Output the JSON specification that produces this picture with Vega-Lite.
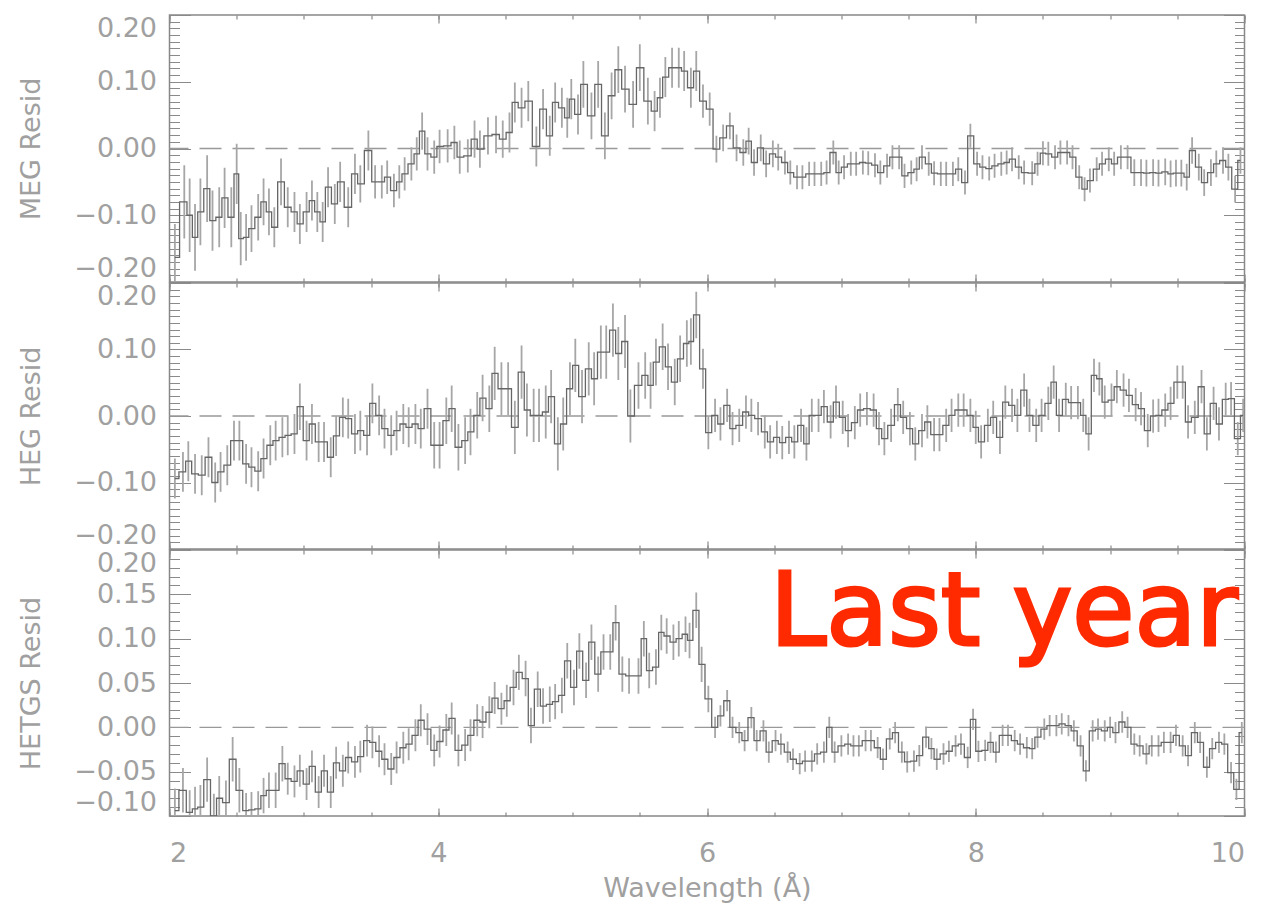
{
"$schema":"https://vega.github.io/schema/vega-lite/v6.json",
"padding":{"left":16.5,"top":13,"right":10,"bottom":5},
"spacing":-3,
"config":{
"view":{"stroke":"#888","strokeWidth":1.5},
"font":"DejaVu Sans",
"axis":{"labelFont":"DejaVu Sans","titleFont":"DejaVu Sans","labelColor":"#a0a0a0","titleColor":"#a0a0a0","labelFontSize":27,"titleFontSize":27,"titleFontWeight":"normal","domain":false,"ticks":false,"gridColor":"#8a8a8a","gridOpacity":1,"gridWidth":1.2}
},
"datasets":{
"meg":[
{"w":2.04,"r":-0.163,"e":0.05},{"w":2.11,"r":-0.08,"e":0.055},{"w":2.15,"r":-0.10,"e":0.055},{"w":2.19,"r":-0.133,"e":0.05},{"w":2.23,"r":-0.095,"e":0.05},{"w":2.28,"r":-0.06,"e":0.05},{"w":2.32,"r":-0.108,"e":0.045},{"w":2.37,"r":-0.103,"e":0.045},{"w":2.41,"r":-0.074,"e":0.045},{"w":2.46,"r":-0.103,"e":0.045},{"w":2.50,"r":-0.038,"e":0.045},{"w":2.53,"r":-0.135,"e":0.04},{"w":2.57,"r":-0.133,"e":0.035},{"w":2.61,"r":-0.12,"e":0.035},{"w":2.66,"r":-0.103,"e":0.035},{"w":2.70,"r":-0.08,"e":0.035},{"w":2.74,"r":-0.095,"e":0.035},{"w":2.78,"r":-0.118,"e":0.03},{"w":2.83,"r":-0.05,"e":0.035},{"w":2.88,"r":-0.088,"e":0.03},{"w":2.93,"r":-0.095,"e":0.03},{"w":2.97,"r":-0.113,"e":0.03},{"w":3.02,"r":-0.095,"e":0.03},{"w":3.06,"r":-0.078,"e":0.03},{"w":3.10,"r":-0.095,"e":0.03},{"w":3.14,"r":-0.11,"e":0.03},{"w":3.18,"r":-0.058,"e":0.03},{"w":3.23,"r":-0.083,"e":0.03},{"w":3.27,"r":-0.05,"e":0.03},{"w":3.33,"r":-0.088,"e":0.03},{"w":3.38,"r":-0.038,"e":0.03},{"w":3.42,"r":-0.053,"e":0.028},{"w":3.48,"r":-0.003,"e":0.03},{"w":3.53,"r":-0.05,"e":0.025},{"w":3.58,"r":-0.05,"e":0.025},{"w":3.62,"r":-0.043,"e":0.025},{"w":3.67,"r":-0.063,"e":0.025},{"w":3.71,"r":-0.05,"e":0.025},{"w":3.75,"r":-0.038,"e":0.025},{"w":3.80,"r":-0.023,"e":0.025},{"w":3.84,"r":-0.008,"e":0.025},{"w":3.88,"r":0.026,"e":0.028},{"w":3.92,"r":-0.008,"e":0.025},{"w":3.97,"r":-0.013,"e":0.025},{"w":4.01,"r":0.003,"e":0.025},{"w":4.07,"r":0.004,"e":0.025},{"w":4.12,"r":0.009,"e":0.025},{"w":4.16,"r":-0.013,"e":0.025},{"w":4.22,"r":-0.011,"e":0.025},{"w":4.27,"r":0.014,"e":0.028},{"w":4.31,"r":-0.001,"e":0.028},{"w":4.37,"r":0.019,"e":0.028},{"w":4.43,"r":0.021,"e":0.028},{"w":4.48,"r":0.014,"e":0.028},{"w":4.53,"r":0.024,"e":0.03},{"w":4.57,"r":0.069,"e":0.03},{"w":4.62,"r":0.061,"e":0.03},{"w":4.67,"r":0.071,"e":0.03},{"w":4.73,"r":0.003,"e":0.03},{"w":4.78,"r":0.059,"e":0.03},{"w":4.83,"r":0.019,"e":0.03},{"w":4.87,"r":0.069,"e":0.03},{"w":4.92,"r":0.061,"e":0.03},{"w":4.96,"r":0.046,"e":0.03},{"w":4.99,"r":0.074,"e":0.03},{"w":5.04,"r":0.051,"e":0.03},{"w":5.08,"r":0.096,"e":0.035},{"w":5.14,"r":0.049,"e":0.035},{"w":5.19,"r":0.096,"e":0.035},{"w":5.24,"r":0.019,"e":0.035},{"w":5.29,"r":0.079,"e":0.035},{"w":5.34,"r":0.118,"e":0.035},{"w":5.39,"r":0.089,"e":0.035},{"w":5.45,"r":0.066,"e":0.035},{"w":5.50,"r":0.121,"e":0.035},{"w":5.56,"r":0.071,"e":0.035},{"w":5.61,"r":0.056,"e":0.03},{"w":5.65,"r":0.076,"e":0.03},{"w":5.69,"r":0.107,"e":0.03},{"w":5.74,"r":0.121,"e":0.03},{"w":5.79,"r":0.121,"e":0.03},{"w":5.83,"r":0.116,"e":0.03},{"w":5.88,"r":0.091,"e":0.03},{"w":5.92,"r":0.116,"e":0.03},{"w":5.97,"r":0.071,"e":0.025},{"w":6.02,"r":0.059,"e":0.025},{"w":6.07,"r":-0.001,"e":0.02},{"w":6.12,"r":0.016,"e":0.02},{"w":6.17,"r":0.034,"e":0.02},{"w":6.22,"r":0.001,"e":0.02},{"w":6.27,"r":-0.006,"e":0.02},{"w":6.31,"r":0.011,"e":0.02},{"w":6.35,"r":-0.021,"e":0.02},{"w":6.40,"r":0.001,"e":0.02},{"w":6.44,"r":-0.023,"e":0.02},{"w":6.49,"r":-0.008,"e":0.02},{"w":6.53,"r":-0.013,"e":0.02},{"w":6.58,"r":-0.021,"e":0.018},{"w":6.62,"r":-0.036,"e":0.018},{"w":6.67,"r":-0.043,"e":0.018},{"w":6.71,"r":-0.043,"e":0.018},{"w":6.76,"r":-0.038,"e":0.018},{"w":6.80,"r":-0.038,"e":0.018},{"w":6.85,"r":-0.038,"e":0.018},{"w":6.89,"r":-0.036,"e":0.018},{"w":6.94,"r":-0.006,"e":0.018},{"w":6.98,"r":-0.036,"e":0.018},{"w":7.02,"r":-0.028,"e":0.018},{"w":7.07,"r":-0.023,"e":0.018},{"w":7.11,"r":-0.023,"e":0.018},{"w":7.16,"r":-0.021,"e":0.018},{"w":7.20,"r":-0.022,"e":0.018},{"w":7.25,"r":-0.025,"e":0.018},{"w":7.29,"r":-0.036,"e":0.018},{"w":7.34,"r":-0.026,"e":0.018},{"w":7.38,"r":-0.013,"e":0.018},{"w":7.43,"r":-0.013,"e":0.018},{"w":7.47,"r":-0.041,"e":0.018},{"w":7.52,"r":-0.036,"e":0.018},{"w":7.56,"r":-0.031,"e":0.018},{"w":7.60,"r":-0.013,"e":0.018},{"w":7.65,"r":-0.023,"e":0.018},{"w":7.69,"r":-0.037,"e":0.018},{"w":7.74,"r":-0.038,"e":0.018},{"w":7.78,"r":-0.038,"e":0.018},{"w":7.83,"r":-0.038,"e":0.018},{"w":7.87,"r":-0.031,"e":0.018},{"w":7.92,"r":-0.051,"e":0.018},{"w":7.96,"r":0.019,"e":0.018},{"w":8.01,"r":-0.023,"e":0.018},{"w":8.05,"r":-0.028,"e":0.018},{"w":8.10,"r":-0.03,"e":0.018},{"w":8.14,"r":-0.026,"e":0.018},{"w":8.19,"r":-0.023,"e":0.018},{"w":8.23,"r":-0.021,"e":0.018},{"w":8.27,"r":-0.016,"e":0.018},{"w":8.32,"r":-0.028,"e":0.018},{"w":8.36,"r":-0.036,"e":0.018},{"w":8.42,"r":-0.037,"e":0.018},{"w":8.46,"r":-0.023,"e":0.018},{"w":8.50,"r":-0.007,"e":0.018},{"w":8.54,"r":-0.008,"e":0.018},{"w":8.59,"r":-0.013,"e":0.018},{"w":8.63,"r":-0.006,"e":0.018},{"w":8.68,"r":-0.006,"e":0.018},{"w":8.72,"r":-0.013,"e":0.018},{"w":8.77,"r":-0.043,"e":0.018},{"w":8.81,"r":-0.061,"e":0.018},{"w":8.85,"r":-0.048,"e":0.018},{"w":8.90,"r":-0.031,"e":0.018},{"w":8.94,"r":-0.023,"e":0.018},{"w":8.99,"r":-0.016,"e":0.018},{"w":9.03,"r":-0.023,"e":0.018},{"w":9.08,"r":-0.013,"e":0.018},{"w":9.13,"r":-0.013,"e":0.018},{"w":9.18,"r":-0.036,"e":0.02},{"w":9.23,"r":-0.036,"e":0.02},{"w":9.27,"r":-0.037,"e":0.02},{"w":9.32,"r":-0.036,"e":0.02},{"w":9.36,"r":-0.037,"e":0.02},{"w":9.41,"r":-0.035,"e":0.02},{"w":9.45,"r":-0.038,"e":0.02},{"w":9.49,"r":-0.037,"e":0.02},{"w":9.53,"r":-0.037,"e":0.02},{"w":9.57,"r":-0.043,"e":0.02},{"w":9.61,"r":-0.003,"e":0.02},{"w":9.66,"r":-0.028,"e":0.02},{"w":9.70,"r":-0.051,"e":0.02},{"w":9.75,"r":-0.036,"e":0.02},{"w":9.79,"r":-0.023,"e":0.02},{"w":9.84,"r":-0.018,"e":0.02},{"w":9.88,"r":-0.028,"e":0.02},{"w":9.93,"r":-0.061,"e":0.02},{"w":9.97,"r":-0.018,"e":0.02}
],
"heg":[
{"w":2.04,"r":-0.094,"e":0.03},{"w":2.10,"r":-0.084,"e":0.03},{"w":2.14,"r":-0.068,"e":0.03},{"w":2.19,"r":-0.087,"e":0.03},{"w":2.24,"r":-0.089,"e":0.03},{"w":2.29,"r":-0.062,"e":0.03},{"w":2.34,"r":-0.10,"e":0.03},{"w":2.38,"r":-0.084,"e":0.03},{"w":2.43,"r":-0.074,"e":0.03},{"w":2.48,"r":-0.037,"e":0.03},{"w":2.52,"r":-0.037,"e":0.03},{"w":2.57,"r":-0.072,"e":0.03},{"w":2.61,"r":-0.077,"e":0.03},{"w":2.66,"r":-0.083,"e":0.03},{"w":2.70,"r":-0.064,"e":0.03},{"w":2.75,"r":-0.044,"e":0.03},{"w":2.79,"r":-0.037,"e":0.03},{"w":2.84,"r":-0.032,"e":0.03},{"w":2.88,"r":-0.029,"e":0.03},{"w":2.93,"r":-0.027,"e":0.03},{"w":2.97,"r":0.014,"e":0.035},{"w":3.02,"r":-0.037,"e":0.03},{"w":3.06,"r":-0.012,"e":0.03},{"w":3.11,"r":-0.039,"e":0.03},{"w":3.15,"r":-0.039,"e":0.03},{"w":3.20,"r":-0.062,"e":0.03},{"w":3.24,"r":-0.03,"e":0.03},{"w":3.29,"r":-0.002,"e":0.03},{"w":3.33,"r":-0.004,"e":0.03},{"w":3.38,"r":-0.027,"e":0.03},{"w":3.42,"r":-0.022,"e":0.03},{"w":3.47,"r":-0.029,"e":0.03},{"w":3.51,"r":0.019,"e":0.03},{"w":3.56,"r":0.001,"e":0.03},{"w":3.60,"r":-0.019,"e":0.03},{"w":3.65,"r":-0.029,"e":0.03},{"w":3.69,"r":-0.022,"e":0.03},{"w":3.74,"r":-0.012,"e":0.03},{"w":3.78,"r":-0.017,"e":0.03},{"w":3.83,"r":-0.012,"e":0.03},{"w":3.87,"r":-0.019,"e":0.03},{"w":3.92,"r":0.011,"e":0.03},{"w":3.97,"r":-0.044,"e":0.035},{"w":4.01,"r":-0.044,"e":0.035},{"w":4.06,"r":-0.007,"e":0.035},{"w":4.10,"r":0.011,"e":0.035},{"w":4.15,"r":-0.047,"e":0.035},{"w":4.20,"r":-0.037,"e":0.035},{"w":4.24,"r":-0.024,"e":0.035},{"w":4.29,"r":0.001,"e":0.035},{"w":4.33,"r":0.027,"e":0.035},{"w":4.38,"r":0.011,"e":0.035},{"w":4.42,"r":0.064,"e":0.04},{"w":4.47,"r":0.041,"e":0.04},{"w":4.52,"r":0.041,"e":0.04},{"w":4.57,"r":-0.017,"e":0.04},{"w":4.62,"r":0.066,"e":0.04},{"w":4.66,"r":0.009,"e":0.04},{"w":4.71,"r":0.001,"e":0.04},{"w":4.75,"r":0.001,"e":0.04},{"w":4.80,"r":0.006,"e":0.04},{"w":4.84,"r":0.029,"e":0.04},{"w":4.89,"r":-0.042,"e":0.04},{"w":4.93,"r":-0.012,"e":0.04},{"w":4.98,"r":0.041,"e":0.04},{"w":5.02,"r":0.076,"e":0.04},{"w":5.07,"r":0.029,"e":0.04},{"w":5.12,"r":0.071,"e":0.04},{"w":5.16,"r":0.056,"e":0.04},{"w":5.21,"r":0.096,"e":0.04},{"w":5.25,"r":0.096,"e":0.04},{"w":5.30,"r":0.129,"e":0.04},{"w":5.34,"r":0.094,"e":0.04},{"w":5.39,"r":0.112,"e":0.04},{"w":5.43,"r":0.0,"e":0.04},{"w":5.49,"r":0.046,"e":0.035},{"w":5.54,"r":0.061,"e":0.035},{"w":5.58,"r":0.046,"e":0.035},{"w":5.62,"r":0.081,"e":0.035},{"w":5.67,"r":0.104,"e":0.035},{"w":5.71,"r":0.074,"e":0.035},{"w":5.76,"r":0.051,"e":0.035},{"w":5.80,"r":0.086,"e":0.035},{"w":5.85,"r":0.109,"e":0.035},{"w":5.88,"r":0.112,"e":0.035},{"w":5.92,"r":0.152,"e":0.035},{"w":5.97,"r":0.071,"e":0.03},{"w":6.01,"r":-0.025,"e":0.025},{"w":6.06,"r":0.001,"e":0.025},{"w":6.10,"r":-0.012,"e":0.025},{"w":6.15,"r":0.016,"e":0.025},{"w":6.19,"r":-0.019,"e":0.025},{"w":6.24,"r":-0.014,"e":0.025},{"w":6.29,"r":0.006,"e":0.025},{"w":6.33,"r":0.001,"e":0.025},{"w":6.38,"r":-0.004,"e":0.025},{"w":6.43,"r":-0.024,"e":0.025},{"w":6.47,"r":-0.039,"e":0.025},{"w":6.52,"r":-0.032,"e":0.025},{"w":6.56,"r":-0.04,"e":0.025},{"w":6.61,"r":-0.032,"e":0.025},{"w":6.65,"r":-0.039,"e":0.025},{"w":6.70,"r":-0.014,"e":0.025},{"w":6.74,"r":-0.042,"e":0.025},{"w":6.78,"r":0.001,"e":0.025},{"w":6.83,"r":0.001,"e":0.025},{"w":6.87,"r":0.014,"e":0.025},{"w":6.92,"r":-0.009,"e":0.025},{"w":6.96,"r":0.021,"e":0.025},{"w":7.01,"r":-0.002,"e":0.025},{"w":7.05,"r":-0.022,"e":0.025},{"w":7.10,"r":-0.01,"e":0.025},{"w":7.14,"r":0.009,"e":0.025},{"w":7.19,"r":0.011,"e":0.025},{"w":7.24,"r":0.009,"e":0.025},{"w":7.28,"r":-0.019,"e":0.025},{"w":7.32,"r":-0.034,"e":0.025},{"w":7.37,"r":-0.014,"e":0.025},{"w":7.42,"r":0.017,"e":0.025},{"w":7.46,"r":-0.002,"e":0.025},{"w":7.51,"r":-0.019,"e":0.025},{"w":7.55,"r":-0.042,"e":0.025},{"w":7.60,"r":-0.022,"e":0.025},{"w":7.64,"r":-0.009,"e":0.025},{"w":7.69,"r":-0.028,"e":0.025},{"w":7.73,"r":-0.028,"e":0.025},{"w":7.78,"r":-0.014,"e":0.025},{"w":7.82,"r":0.001,"e":0.025},{"w":7.87,"r":0.009,"e":0.025},{"w":7.91,"r":0.009,"e":0.025},{"w":7.96,"r":0.001,"e":0.025},{"w":8.00,"r":-0.017,"e":0.025},{"w":8.04,"r":-0.039,"e":0.025},{"w":8.09,"r":-0.014,"e":0.025},{"w":8.13,"r":-0.002,"e":0.025},{"w":8.18,"r":-0.032,"e":0.025},{"w":8.22,"r":0.021,"e":0.025},{"w":8.27,"r":0.016,"e":0.025},{"w":8.31,"r":0.001,"e":0.025},{"w":8.36,"r":0.039,"e":0.025},{"w":8.40,"r":0.001,"e":0.025},{"w":8.45,"r":-0.014,"e":0.025},{"w":8.49,"r":0.001,"e":0.025},{"w":8.54,"r":0.019,"e":0.025},{"w":8.58,"r":0.051,"e":0.025},{"w":8.62,"r":0.001,"e":0.025},{"w":8.67,"r":0.025,"e":0.025},{"w":8.71,"r":0.02,"e":0.025},{"w":8.76,"r":0.02,"e":0.025},{"w":8.80,"r":0.001,"e":0.025},{"w":8.84,"r":-0.027,"e":0.025},{"w":8.88,"r":0.061,"e":0.025},{"w":8.92,"r":0.056,"e":0.025},{"w":8.96,"r":0.021,"e":0.025},{"w":9.01,"r":0.024,"e":0.025},{"w":9.05,"r":0.044,"e":0.025},{"w":9.10,"r":0.039,"e":0.025},{"w":9.14,"r":0.031,"e":0.025},{"w":9.19,"r":0.017,"e":0.025},{"w":9.23,"r":0.011,"e":0.025},{"w":9.28,"r":-0.022,"e":0.025},{"w":9.32,"r":0.0,"e":0.025},{"w":9.36,"r":0.001,"e":0.025},{"w":9.41,"r":0.009,"e":0.025},{"w":9.45,"r":0.019,"e":0.025},{"w":9.50,"r":0.051,"e":0.025},{"w":9.54,"r":0.051,"e":0.025},{"w":9.58,"r":-0.009,"e":0.025},{"w":9.63,"r":-0.002,"e":0.025},{"w":9.68,"r":0.044,"e":0.025},{"w":9.72,"r":-0.027,"e":0.025},{"w":9.77,"r":0.019,"e":0.025},{"w":9.81,"r":-0.012,"e":0.025},{"w":9.86,"r":0.025,"e":0.025},{"w":9.90,"r":0.026,"e":0.025},{"w":9.95,"r":-0.034,"e":0.025},{"w":9.99,"r":0.001,"e":0.025}
],
"hetgs":[
{"w":2.04,"r":-0.094,"e":0.025},{"w":2.10,"r":-0.071,"e":0.025},{"w":2.15,"r":-0.096,"e":0.025},{"w":2.19,"r":-0.092,"e":0.025},{"w":2.23,"r":-0.09,"e":0.025},{"w":2.28,"r":-0.059,"e":0.025},{"w":2.33,"r":-0.10,"e":0.025},{"w":2.37,"r":-0.08,"e":0.025},{"w":2.42,"r":-0.085,"e":0.025},{"w":2.47,"r":-0.036,"e":0.025},{"w":2.52,"r":-0.071,"e":0.025},{"w":2.57,"r":-0.094,"e":0.02},{"w":2.61,"r":-0.093,"e":0.02},{"w":2.66,"r":-0.092,"e":0.02},{"w":2.70,"r":-0.077,"e":0.02},{"w":2.74,"r":-0.071,"e":0.02},{"w":2.79,"r":-0.071,"e":0.02},{"w":2.84,"r":-0.041,"e":0.02},{"w":2.88,"r":-0.058,"e":0.018},{"w":2.93,"r":-0.061,"e":0.018},{"w":2.97,"r":-0.049,"e":0.018},{"w":3.02,"r":-0.064,"e":0.018},{"w":3.06,"r":-0.044,"e":0.018},{"w":3.11,"r":-0.073,"e":0.018},{"w":3.15,"r":-0.049,"e":0.018},{"w":3.20,"r":-0.073,"e":0.018},{"w":3.24,"r":-0.040,"e":0.018},{"w":3.29,"r":-0.049,"e":0.018},{"w":3.33,"r":-0.034,"e":0.018},{"w":3.38,"r":-0.039,"e":0.018},{"w":3.42,"r":-0.033,"e":0.018},{"w":3.47,"r":-0.015,"e":0.018},{"w":3.51,"r":-0.017,"e":0.018},{"w":3.56,"r":-0.027,"e":0.018},{"w":3.60,"r":-0.036,"e":0.018},{"w":3.65,"r":-0.047,"e":0.018},{"w":3.69,"r":-0.034,"e":0.018},{"w":3.74,"r":-0.023,"e":0.018},{"w":3.78,"r":-0.019,"e":0.018},{"w":3.83,"r":-0.009,"e":0.018},{"w":3.87,"r":0.008,"e":0.018},{"w":3.92,"r":-0.002,"e":0.018},{"w":3.97,"r":-0.026,"e":0.018},{"w":4.01,"r":-0.016,"e":0.018},{"w":4.06,"r":-0.003,"e":0.018},{"w":4.10,"r":0.010,"e":0.018},{"w":4.15,"r":-0.026,"e":0.018},{"w":4.20,"r":-0.02,"e":0.018},{"w":4.24,"r":-0.009,"e":0.018},{"w":4.29,"r":0.008,"e":0.018},{"w":4.33,"r":0.006,"e":0.018},{"w":4.38,"r":0.017,"e":0.018},{"w":4.42,"r":0.033,"e":0.018},{"w":4.47,"r":0.021,"e":0.018},{"w":4.51,"r":0.03,"e":0.018},{"w":4.56,"r":0.045,"e":0.02},{"w":4.60,"r":0.062,"e":0.02},{"w":4.65,"r":0.055,"e":0.02},{"w":4.69,"r":0.002,"e":0.02},{"w":4.74,"r":0.043,"e":0.02},{"w":4.78,"r":0.024,"e":0.02},{"w":4.83,"r":0.026,"e":0.02},{"w":4.87,"r":0.029,"e":0.02},{"w":4.92,"r":0.036,"e":0.02},{"w":4.96,"r":0.075,"e":0.02},{"w":5.01,"r":0.045,"e":0.02},{"w":5.05,"r":0.086,"e":0.02},{"w":5.10,"r":0.053,"e":0.02},{"w":5.14,"r":0.096,"e":0.02},{"w":5.19,"r":0.06,"e":0.02},{"w":5.23,"r":0.085,"e":0.02},{"w":5.28,"r":0.085,"e":0.02},{"w":5.32,"r":0.118,"e":0.02},{"w":5.37,"r":0.06,"e":0.02},{"w":5.42,"r":0.058,"e":0.02},{"w":5.49,"r":0.058,"e":0.02},{"w":5.53,"r":0.10,"e":0.02},{"w":5.57,"r":0.064,"e":0.02},{"w":5.62,"r":0.068,"e":0.02},{"w":5.66,"r":0.107,"e":0.02},{"w":5.70,"r":0.103,"e":0.02},{"w":5.75,"r":0.096,"e":0.02},{"w":5.79,"r":0.10,"e":0.02},{"w":5.84,"r":0.105,"e":0.02},{"w":5.87,"r":0.098,"e":0.02},{"w":5.92,"r":0.132,"e":0.02},{"w":5.96,"r":0.071,"e":0.02},{"w":6.01,"r":0.032,"e":0.015},{"w":6.06,"r":0.0,"e":0.012},{"w":6.10,"r":0.013,"e":0.012},{"w":6.15,"r":0.03,"e":0.012},{"w":6.19,"r":0.0,"e":0.012},{"w":6.24,"r":-0.006,"e":0.012},{"w":6.28,"r":-0.015,"e":0.012},{"w":6.33,"r":0.011,"e":0.012},{"w":6.37,"r":-0.015,"e":0.012},{"w":6.42,"r":-0.004,"e":0.012},{"w":6.46,"r":-0.028,"e":0.012},{"w":6.51,"r":-0.015,"e":0.012},{"w":6.55,"r":-0.019,"e":0.012},{"w":6.60,"r":-0.028,"e":0.012},{"w":6.64,"r":-0.036,"e":0.012},{"w":6.69,"r":-0.041,"e":0.012},{"w":6.73,"r":-0.038,"e":0.012},{"w":6.78,"r":-0.038,"e":0.012},{"w":6.82,"r":-0.03,"e":0.012},{"w":6.87,"r":-0.028,"e":0.012},{"w":6.91,"r":0.0,"e":0.012},{"w":6.95,"r":-0.028,"e":0.012},{"w":7.00,"r":-0.021,"e":0.012},{"w":7.05,"r":-0.019,"e":0.012},{"w":7.09,"r":-0.021,"e":0.012},{"w":7.13,"r":-0.021,"e":0.012},{"w":7.18,"r":-0.015,"e":0.012},{"w":7.22,"r":-0.015,"e":0.012},{"w":7.27,"r":-0.023,"e":0.012},{"w":7.31,"r":-0.036,"e":0.012},{"w":7.36,"r":-0.013,"e":0.012},{"w":7.40,"r":-0.006,"e":0.012},{"w":7.45,"r":-0.028,"e":0.012},{"w":7.49,"r":-0.039,"e":0.012},{"w":7.54,"r":-0.038,"e":0.012},{"w":7.58,"r":-0.032,"e":0.012},{"w":7.63,"r":-0.011,"e":0.012},{"w":7.67,"r":-0.024,"e":0.012},{"w":7.71,"r":-0.036,"e":0.012},{"w":7.76,"r":-0.03,"e":0.012},{"w":7.80,"r":-0.027,"e":0.012},{"w":7.85,"r":-0.021,"e":0.012},{"w":7.89,"r":-0.019,"e":0.012},{"w":7.94,"r":-0.034,"e":0.012},{"w":7.98,"r":0.009,"e":0.012},{"w":8.02,"r":-0.027,"e":0.012},{"w":8.07,"r":-0.026,"e":0.012},{"w":8.11,"r":-0.017,"e":0.012},{"w":8.15,"r":-0.028,"e":0.012},{"w":8.20,"r":-0.009,"e":0.012},{"w":8.24,"r":-0.009,"e":0.012},{"w":8.29,"r":-0.015,"e":0.012},{"w":8.33,"r":-0.019,"e":0.012},{"w":8.38,"r":-0.023,"e":0.012},{"w":8.42,"r":-0.024,"e":0.012},{"w":8.46,"r":-0.011,"e":0.012},{"w":8.51,"r":-0.002,"e":0.012},{"w":8.55,"r":0.002,"e":0.012},{"w":8.60,"r":0.002,"e":0.012},{"w":8.64,"r":0.004,"e":0.012},{"w":8.69,"r":0.002,"e":0.012},{"w":8.73,"r":-0.004,"e":0.012},{"w":8.78,"r":-0.021,"e":0.012},{"w":8.82,"r":-0.049,"e":0.012},{"w":8.87,"r":-0.004,"e":0.012},{"w":8.91,"r":-0.002,"e":0.012},{"w":8.96,"r":-0.004,"e":0.012},{"w":9.00,"r":0.0,"e":0.012},{"w":9.04,"r":-0.006,"e":0.012},{"w":9.09,"r":0.006,"e":0.012},{"w":9.13,"r":0.0,"e":0.012},{"w":9.18,"r":-0.019,"e":0.012},{"w":9.22,"r":-0.021,"e":0.012},{"w":9.27,"r":-0.03,"e":0.012},{"w":9.31,"r":-0.021,"e":0.012},{"w":9.36,"r":-0.021,"e":0.012},{"w":9.40,"r":-0.017,"e":0.012},{"w":9.45,"r":-0.017,"e":0.012},{"w":9.49,"r":-0.009,"e":0.012},{"w":9.54,"r":-0.021,"e":0.012},{"w":9.58,"r":-0.032,"e":0.012},{"w":9.63,"r":-0.006,"e":0.012},{"w":9.67,"r":-0.017,"e":0.012},{"w":9.72,"r":-0.045,"e":0.012},{"w":9.76,"r":-0.024,"e":0.012},{"w":9.81,"r":-0.017,"e":0.012},{"w":9.85,"r":-0.019,"e":0.012},{"w":9.90,"r":-0.051,"e":0.012},{"w":9.94,"r":-0.07,"e":0.012},{"w":9.98,"r":-0.006,"e":0.012}
]
},
"vconcat":[
{
"width":1075,"height":267,
"data":{"name":"meg"},
"layer":[
{"data":{"values":[{"z":0}]},"mark":{"type":"rule","strokeDash":[22,11],"color":"#999","strokeWidth":1.3},"encoding":{"y":{"field":"z","type":"quantitative","axis":null}}},
{"mark":{"type":"errorbar","color":"#a6a6a6","thickness":1.8,"clip":true},"encoding":{
"x":{"field":"w","type":"quantitative","scale":{"domain":[2,10],"nice":false,"zero":false},"axis":{"orient":"bottom","values":[2,2.5,3,3.5,4,4.5,5,5.5,6,6.5,7,7.5,8,8.5,9,9.5,10],"labels":false,"title":null,"grid":true,"gridDash":[4,259,4,0]}},
"y":{"field":"r","type":"quantitative","scale":{"domain":[-0.2,0.2],"nice":false,"zero":false},"axis":{"orient":"left","values":[-0.2,-0.19,-0.18,-0.17,-0.16,-0.15,-0.14,-0.13,-0.12,-0.11,-0.1,-0.09,-0.08,-0.07,-0.06,-0.05,-0.04,-0.03,-0.02,-0.01,0,0.01,0.02,0.03,0.04,0.05,0.06,0.07,0.08,0.09,0.1,0.11,0.12,0.13,0.14,0.15,0.16,0.17,0.18,0.19,0.2],"labels":false,"title":null,"grid":true,"gridDash":[10,1055,10,0]}},
"yError":{"field":"e"}}},
{"mark":{"type":"line","interpolate":"step","color":"#666","strokeWidth":1.3,"clip":true},"encoding":{
"x":{"field":"w","type":"quantitative","axis":{"orient":"bottom","values":[2,4,6,8,10],"labels":false,"title":null,"grid":true,"gridDash":[8,251,8,0]}},
"y":{"field":"r","type":"quantitative","axis":{"orient":"left","values":[-0.2,-0.1,0,0.1,0.2],"format":".2f","labelFlush":true,"labelPadding":13,"title":"MEG Resid","titlePadding":28,"grid":true,"gridDash":[21,1033,21,0]}}}}
],
"resolve":{"axis":{"x":"independent","y":"independent"}}
},
{
"width":1075,"height":266,
"data":{"name":"heg"},
"layer":[
{"data":{"values":[{"z":0}]},"mark":{"type":"rule","strokeDash":[22,11],"color":"#999","strokeWidth":1.3},"encoding":{"y":{"field":"z","type":"quantitative","axis":null}}},
{"mark":{"type":"errorbar","color":"#a6a6a6","thickness":1.8,"clip":true},"encoding":{
"x":{"field":"w","type":"quantitative","scale":{"domain":[2,10],"nice":false,"zero":false},"axis":{"orient":"bottom","values":[2,2.5,3,3.5,4,4.5,5,5.5,6,6.5,7,7.5,8,8.5,9,9.5,10],"labels":false,"title":null,"grid":true,"gridDash":[4,258,4,0]}},
"y":{"field":"r","type":"quantitative","scale":{"domain":[-0.2,0.2],"nice":false,"zero":false},"axis":{"orient":"left","values":[-0.2,-0.19,-0.18,-0.17,-0.16,-0.15,-0.14,-0.13,-0.12,-0.11,-0.1,-0.09,-0.08,-0.07,-0.06,-0.05,-0.04,-0.03,-0.02,-0.01,0,0.01,0.02,0.03,0.04,0.05,0.06,0.07,0.08,0.09,0.1,0.11,0.12,0.13,0.14,0.15,0.16,0.17,0.18,0.19,0.2],"labels":false,"title":null,"grid":true,"gridDash":[10,1055,10,0]}},
"yError":{"field":"e"}}},
{"mark":{"type":"line","interpolate":"step","color":"#666","strokeWidth":1.3,"clip":true},"encoding":{
"x":{"field":"w","type":"quantitative","axis":{"orient":"bottom","values":[2,4,6,8,10],"labels":false,"title":null,"grid":true,"gridDash":[8,250,8,0]}},
"y":{"field":"r","type":"quantitative","axis":{"orient":"left","values":[-0.2,-0.1,0,0.1,0.2],"format":".2f","labelFlush":true,"labelPadding":13,"title":"HEG Resid","titlePadding":28,"grid":true,"gridDash":[21,1033,21,0]}}}}
],
"resolve":{"axis":{"x":"independent","y":"independent"}}
},
{
"width":1075,"height":266,
"data":{"name":"hetgs"},
"layer":[
{"data":{"values":[{"z":0}]},"mark":{"type":"rule","strokeDash":[22,11],"color":"#999","strokeWidth":1.3},"encoding":{"y":{"field":"z","type":"quantitative","axis":null}}},
{"mark":{"type":"errorbar","color":"#a6a6a6","thickness":1.8,"clip":true},"encoding":{
"x":{"field":"w","type":"quantitative","scale":{"domain":[2,10],"nice":false,"zero":false},"axis":{"orient":"bottom","values":[2,2.5,3,3.5,4,4.5,5,5.5,6,6.5,7,7.5,8,8.5,9,9.5,10],"labels":false,"title":null,"grid":true,"gridDash":[4,258,4,0]}},
"y":{"field":"r","type":"quantitative","scale":{"domain":[-0.1,0.2],"nice":false,"zero":false},"axis":{"orient":"left","values":[-0.1,-0.09,-0.08,-0.07,-0.06,-0.05,-0.04,-0.03,-0.02,-0.01,0,0.01,0.02,0.03,0.04,0.05,0.06,0.07,0.08,0.09,0.1,0.11,0.12,0.13,0.14,0.15,0.16,0.17,0.18,0.19,0.2],"labels":false,"title":null,"grid":true,"gridDash":[10,1055,10,0]}},
"yError":{"field":"e"}}},
{"mark":{"type":"line","interpolate":"step","color":"#666","strokeWidth":1.3,"clip":true},"encoding":{
"x":{"field":"w","type":"quantitative","axis":{"orient":"bottom","values":[2,4,6,8,10],"labels":true,"labelPadding":24,"title":"Wavelength (Å)","titlePadding":9,"grid":true,"gridDash":[8,250,8,0]}},
"y":{"field":"r","type":"quantitative","axis":{"orient":"left","values":[-0.1,-0.05,0,0.05,0.1,0.15,0.2],"format":".2f","labelFlush":true,"labelPadding":13,"title":"HETGS Resid","titlePadding":28,"grid":true,"gridDash":[21,1033,21,0]}}}},
{"data":{"values":[{"t":"Last year"}]},"mark":{"type":"text","font":"DejaVu Sans","fontSize":101,"color":"#ff2a00","stroke":"#ff2a00","strokeWidth":3,"align":"center","baseline":"alphabetic"},"encoding":{"text":{"field":"t"},"x":{"datum":8.21,"type":"quantitative","axis":null},"y":{"datum":0.0925,"type":"quantitative","axis":null}}}
],
"resolve":{"axis":{"x":"independent","y":"independent"}}
}
]
}
